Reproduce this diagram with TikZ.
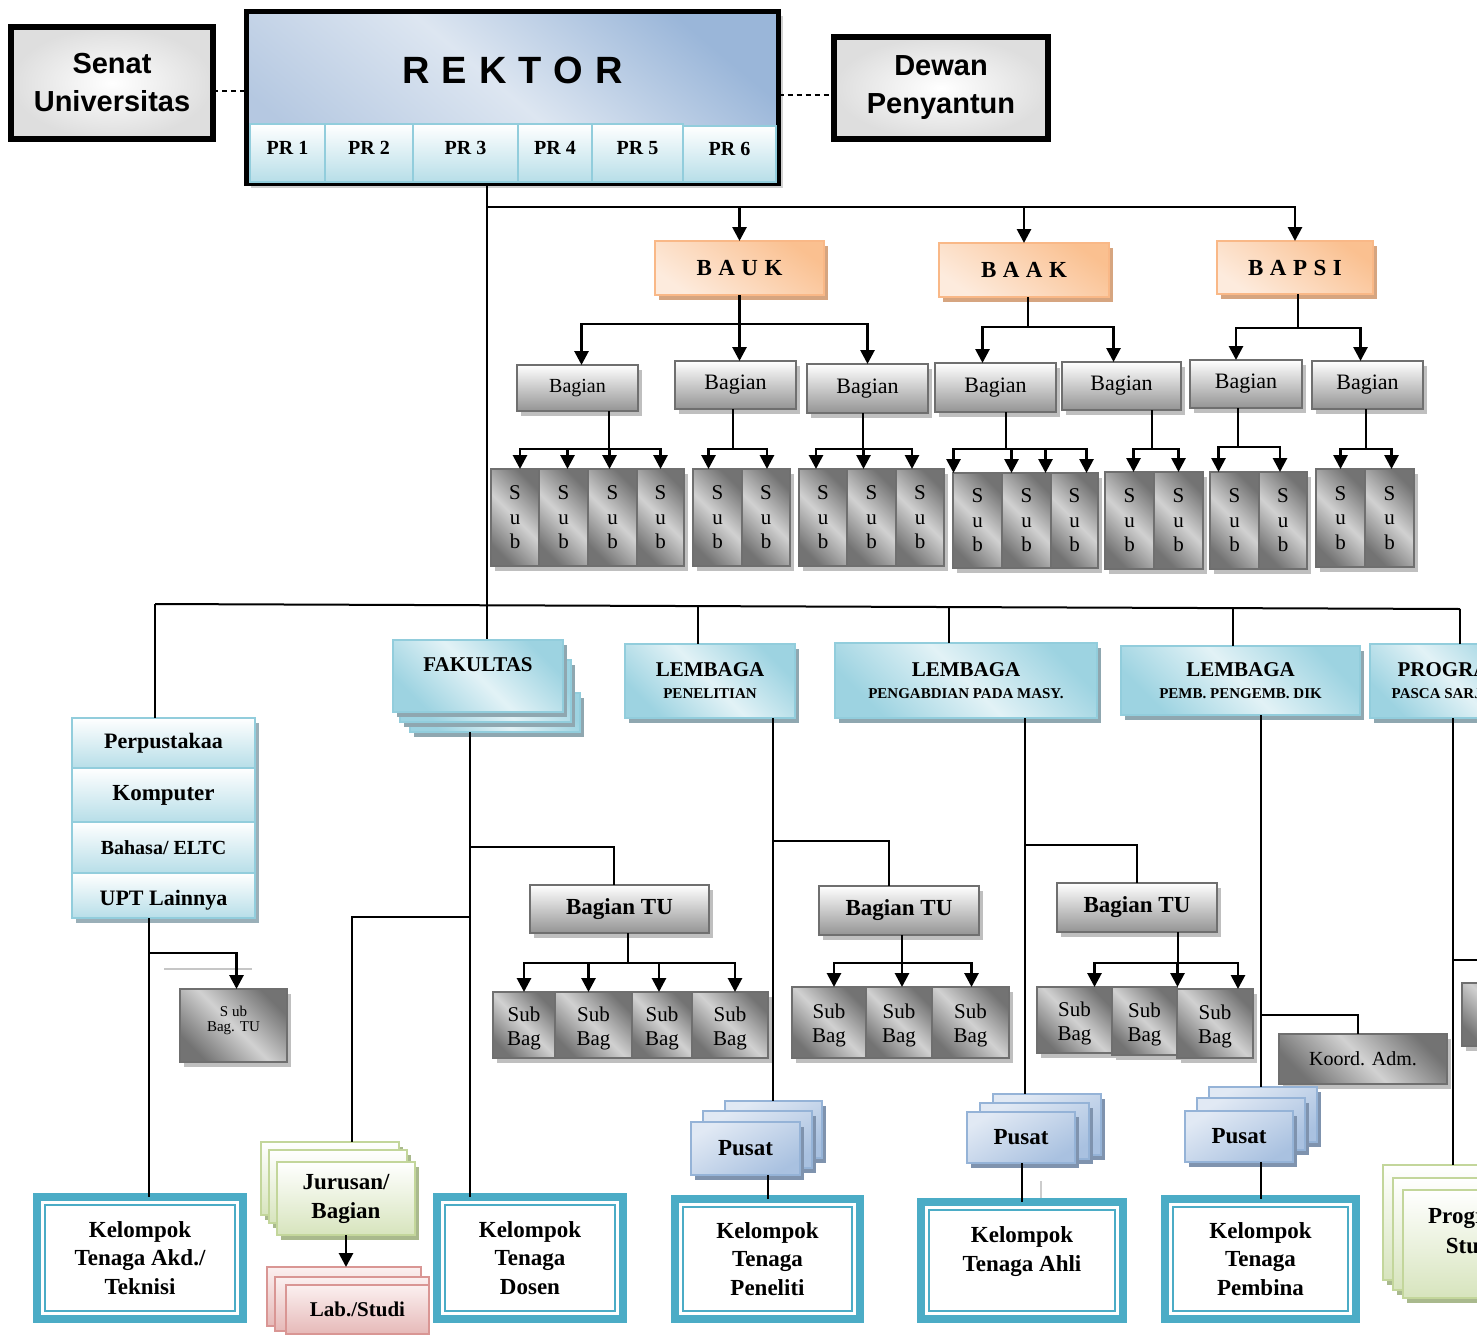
\documentclass[tikz,border=0pt]{standalone}
\usepackage{fontspec}
\setmainfont{Liberation Serif}
\newfontfamily\arialf{Liberation Sans}
\usetikzlibrary{shadows,arrows.meta}
\newcommand\fsz[2]{\fontsize{#1}{#2}\selectfont}
\newcommand\BX[6]{\node[#1,anchor=north west,minimum width={(#5)-(#3)},minimum height={(#6)-(#4)}] (#2) at (#3,#4)}
\newcommand\kin[1]{\draw[draw=tealK,line width=2.5pt] ([shift={(8pt,-8pt)}]#1.north west) rectangle ([shift={(-8pt,8pt)}]#1.south east);}
\newcommand\RB[2]{\raisebox{#1}[0pt][0pt]{\begin{tabular}{@{}c@{}}#2\end{tabular}}}
\newcommand\PRt[1]{\raisebox{-1.5pt}[0pt][0pt]{PR #1}}
\newcommand\SB{\RB{-8.5pt}{Sub\\Bag}}
\definecolor{tealK}{HTML}{4BACC6}
\definecolor{cyanB}{HTML}{92CDDC}
\definecolor{cyanL}{HTML}{B7DEE8}
\definecolor{cyanD}{HTML}{9DD3E1}
\definecolor{cyanM}{HTML}{E2F2F6}
\definecolor{cellS}{HTML}{9AAFB8}
\definecolor{lemS}{HTML}{8FA7B0}
\definecolor{orB}{HTML}{F9B887}
\definecolor{orD}{HTML}{FAC090}
\definecolor{orL}{HTML}{FDEBDD}
\definecolor{orS}{HTML}{D6A580}
\definecolor{grB}{HTML}{6F6F6F}
\definecolor{puB}{HTML}{95B3D7}
\definecolor{puL}{HTML}{E1E9F4}
\definecolor{puD}{HTML}{A9C1E0}
\definecolor{puS}{HTML}{7F93AE}
\definecolor{grnB}{HTML}{C3D69B}
\definecolor{grnL}{HTML}{D7E4BD}
\definecolor{grnS}{HTML}{A9B98D}
\definecolor{pkB}{HTML}{D99694}
\definecolor{pkL}{HTML}{E6B9B8}
\definecolor{pkT}{HTML}{FBF0F0}
\definecolor{rekD}{HTML}{9AB6D9}
\definecolor{rekM}{HTML}{DDE6F1}
\definecolor{rekB}{HTML}{B5C8E1}
\tikzset{
 base/.style={inner sep=1pt,outer sep=0pt,align=center},
 shad/.style={drop shadow={shadow xshift=4pt,shadow yshift=-5pt,fill=#1,opacity=1}},
 blk/.style={base,draw=black,line width=6pt,inner color=white,outer color=black!13,font=\arialf\bfseries\fsz{29}{38}},
 rek/.style={base,draw=black,line width=5pt,top color=rekD,bottom color=rekB,middle color=rekM,shading angle=-40,shad=black!18,font=\arialf\bfseries\fsz{38}{40}},
 pr/.style={base,draw=cyanB,line width=2.5pt,top color=white,bottom color=cyanL,font=\bfseries\fsz{20}{24}},
 cell/.style={pr,shad=cellS,font=\bfseries\fsz{22}{26}},
 org/.style={base,draw=orB,line width=2pt,top color=orD,bottom color=orL,shading angle=-35,shad=orS,font=\bfseries\fsz{23}{26}},
 bag/.style={base,draw=grB,line width=2.5pt,top color=white,bottom color=black!42,shad=black!25,font=\fsz{22}{26}},
 bagb/.style={bag,font=\bfseries\fsz{23}{26}},
 subv/.style={base,draw=grB,line width=2.5pt,top color=black!55,bottom color=black!55,middle color=black!18,shading angle=-45,shad=black!25,font=\fsz{21}{24.5}},
 subh/.style={subv,font=\fsz{21}{24}},
 lemb/.style={base,draw=cyanB,line width=2.5pt,top color=cyanD,bottom color=cyanD,middle color=cyanM,shading angle=-45,shad=lemS,font=\bfseries\fsz{21}{22}},
 kel/.style={base,draw=tealK,line width=8pt,fill=white,font=\bfseries\fsz{23}{28.5}},
 pus/.style={base,draw=puB,line width=2.5pt,top color=puL,bottom color=puD,shading angle=30,shad=puS,font=\bfseries\fsz{23}{26}},
 grn/.style={base,draw=grnB,line width=2.5pt,top color=white,bottom color=grnL,shad=grnS,font=\bfseries\fsz{23}{29}},
 pnk/.style={base,draw=pkB,line width=2.5pt,top color=pkT,bottom color=pkL,font=\bfseries\fsz{21}{24}},
 ln/.style={line width=2pt},
 lnb/.style={line width=2.8pt},
 arr/.style={line width=2.8pt,-{Triangle[width=14pt,length=14pt]}},
}
\begin{document}
\begin{tikzpicture}[x=1pt,y=-1pt]
\useasboundingbox (0,0) rectangle (1477,1335);
\clip (0,0) rectangle (1477,1335);
\fill[white] (0,0) rectangle (1477,1335);

% ---------- top ----------
\BX{blk}{senat}{11}{27}{213}{139}{Senat\\Universitas};
\BX{rek}{rektor}{246.5}{11.5}{778.5}{183}{\raisebox{14pt}[0pt][0pt]{R\kern12pt E\kern12pt K\kern12pt T\kern12pt O\kern12pt R}};
\BX{pr}{pr1}{250}{124}{325}{182}{\PRt{1}};
\BX{pr}{pr2}{325}{124}{413}{182}{\PRt{2}};
\BX{pr}{pr3}{413}{124}{518}{182}{\PRt{3}};
\BX{pr}{pr4}{518}{124}{592}{182}{\PRt{4}};
\BX{pr}{pr5}{592}{124}{683}{182}{\PRt{5}};
\BX{pr}{pr6}{683}{126}{776}{182}{\PRt{6}};
\BX{blk}{dewan}{834}{37}{1048}{139}{Dewan\\Penyantun};
\draw[line width=1.6pt,dash pattern=on 5pt off 4pt] ([yshift=-8pt]senat.east) -- ([yshift=-8pt]senat.east -| rektor.west);
\draw[line width=1.6pt,dash pattern=on 5pt off 4pt] ([yshift=-7pt]dewan.west -| rektor.east) -- ([yshift=-7pt]dewan.west);

% ---------- biro ----------
\BX{org}{bauk}{655}{241}{824}{295}{B\kern6.5pt A\kern6.5pt U\kern6.5pt K};
\BX{org}{baak}{939}{243}{1109}{297}{B\kern6.5pt A\kern6.5pt A\kern6.5pt K};
\BX{org}{bapsi}{1217}{241}{1373}{294}{B\kern6.5pt A\kern6.5pt P\kern6.5pt S\kern6.5pt I};

\BX{bag,font=\fsz{20}{24}}{b1}{517}{365}{638}{411}{Bagian};
\BX{bag}{b2}{675}{361}{796}{409}{Bagian};
\BX{bag}{b3}{807}{364}{928}{413}{Bagian};
\BX{bag}{b4}{935}{363}{1056}{412}{Bagian};
\BX{bag}{b5}{1062}{362}{1181}{410}{Bagian};
\BX{bag}{b6}{1190}{360}{1302}{408}{Bagian};
\BX{bag}{b7}{1312}{361}{1423}{409}{Bagian};

\BX{subv}{s11}{491}{469}{539}{566}{S\\u\\b};
\BX{subv}{s12}{539}{469}{588}{566}{S\\u\\b};
\BX{subv}{s13}{588}{469}{637}{566}{S\\u\\b};
\BX{subv}{s14}{637}{469}{684}{566}{S\\u\\b};
\BX{subv}{s21}{693}{469}{742}{566}{S\\u\\b};
\BX{subv}{s22}{742}{469}{790}{566}{S\\u\\b};
\BX{subv}{s31}{799}{469}{847}{566}{S\\u\\b};
\BX{subv}{s32}{847}{469}{896}{566}{S\\u\\b};
\BX{subv}{s33}{896}{469}{944}{566}{S\\u\\b};
\BX{subv}{s41}{953}{473}{1002}{568}{S\\u\\b};
\BX{subv}{s42}{1002}{473}{1051}{568}{S\\u\\b};
\BX{subv}{s43}{1051}{473}{1098}{568}{S\\u\\b};
\BX{subv}{s51}{1105}{472}{1154}{569}{S\\u\\b};
\BX{subv}{s52}{1154}{472}{1203}{569}{S\\u\\b};
\BX{subv}{s61}{1210}{472}{1259}{569}{S\\u\\b};
\BX{subv}{s62}{1259}{472}{1307}{569}{S\\u\\b};
\BX{subv}{s71}{1316}{469}{1365}{567}{S\\u\\b};
\BX{subv}{s72}{1365}{469}{1414}{567}{S\\u\\b};

% rektor -> biro
\coordinate (jr) at (487,207);
\draw[ln] (jr |- rektor.south) -- (jr |- 0,640);
\draw[arr] (jr) -| (bauk.north);
\draw[arr] (jr) -| (baak.north);
\draw[arr] (jr) -| (bapsi.north);

\coordinate (jbauk) at (739.5,324);
\draw[lnb] (bauk.south) -- (jbauk);
\draw[arr] (jbauk) -| ([xshift=4pt]b1.north);
\draw[arr] (jbauk) -- (jbauk |- b2.north);
\draw[arr] (jbauk) -| (b3.north);
\coordinate (jbaak) at (1028,327);
\draw[ln] (jbaak |- baak.south) -- (jbaak);
\draw[arr] (jbaak) -| ([xshift=-13pt]b4.north);
\draw[arr] (jbaak) -| ([xshift=-8pt]b5.north);
\coordinate (jbapsi) at (1298,328);
\draw[ln] (jbapsi |- bapsi.south) -- (jbapsi);
\draw[arr] (jbapsi) -| ([xshift=-10pt]b6.north);
\draw[arr] (jbapsi) -| ([xshift=-7pt]b7.north);

\coordinate (j1) at (609,449);
\draw[ln] (j1 |- b1.south) -- (j1);
\draw[arr] (j1) -| ([xshift=5pt]s11.north);
\draw[arr] (j1) -| ([xshift=4pt]s12.north);
\draw[arr] (j1) -| ([xshift=-3pt]s13.north);
\draw[arr] (j1) -| (s14.north);
\coordinate (j2) at (733,449);
\draw[ln] (j2 |- b2.south) -- (j2);
\draw[arr] (j2) -| ([xshift=-9pt]s21.north);
\draw[arr] (j2) -| ([xshift=1pt]s22.north);
\coordinate (j3) at (863,449);
\draw[ln] (j3 |- b3.south) -- (j3);
\draw[arr] (j3) -| ([xshift=-7pt]s31.north);
\draw[arr] (j3) -| ([xshift=-8pt]s32.north);
\draw[arr] (j3) -| ([xshift=-8pt]s33.north);
\coordinate (j4) at (1006,449);
\draw[ln] (j4 |- b4.south) -- (j4);
\draw[arr] (j4) -| ([xshift=-24pt]s41.north);
\draw[arr] (j4) -| ([xshift=-15pt]s42.north);
\draw[arr] (j4) -| ([xshift=-29pt]s43.north);
\draw[arr] (j4) -| ([xshift=12pt]s43.north);
\coordinate (j5) at (1152,449);
\draw[ln] (j5 |- b5.south) -- (j5);
\draw[arr] (j5) -| ([xshift=4pt]s51.north);
\draw[arr] (j5) -| (s52.north);
\coordinate (j6) at (1238,447);
\draw[ln] (j6 |- b6.south) -- (j6);
\draw[arr] (j6) -| ([xshift=-16pt]s61.north);
\draw[arr] (j6) -| ([xshift=-3pt]s62.north);
\coordinate (j7) at (1366,449);
\draw[ln] (j7 |- b7.south) -- (j7);
\draw[arr] (j7) -| (s71.north);
\draw[arr] (j7) -| ([xshift=2pt]s72.north);

% ---------- lower level ----------
\BX{cell}{perp}{72}{718}{255}{768}{Perpustakaa};
\BX{cell,font=\bfseries\fsz{23}{26}}{komp}{72}{768}{255}{822}{Komputer};
\BX{cell,font=\bfseries\fsz{20}{24}}{bhs}{72}{822}{255}{873}{Bahasa/ ELTC};
\BX{cell}{upt}{72}{873}{255}{918}{\raisebox{-10pt}[0pt][0pt]{UPT Lainnya}};

\BX{lemb}{fakb2}{410}{693}{580}{732}{};
\BX{lemb}{fakb1}{400}{660}{571}{722}{};
\BX{lemb}{fak}{393}{640}{563}{712}{\raisebox{5pt}[0pt][0pt]{FAKULTAS}};
\BX{lemb}{lp}{625}{644}{795}{718}{LEMBAGA\\{\fsz{15}{22}PENELITIAN}};
\BX{lemb}{lg}{835}{643}{1097}{718}{LEMBAGA\\{\fsz{15}{22}PENGABDIAN PADA MASY.}};
\BX{lemb}{le}{1121}{646}{1360}{715}{LEMBAGA\\{\fsz{15}{22}PEMB. PENGEMB. DIK}};
\BX{lemb}{lq}{1370}{644}{1536}{718}{PROGRAM\\{\fsz{15}{22}PASCA SARJANA}};

\coordinate (hl) at (155,604);
\coordinate (hr) at (1460,609);
\coordinate (t1) at (698,606);
\coordinate (t2) at (949,607);
\coordinate (t3) at (1233,608);
\draw[ln] (hl) -- (hr);
\draw[ln] (hl) -- (hl |- perp.north);
\draw[ln] (t1) -- (t1 |- lp.north);
\draw[ln] (t2) -- (t2 |- lg.north);
\draw[ln] (t3) -- (t3 |- le.north);
\draw[ln] (hr) -- (hr |- lq.north);

% Bagian TU
\BX{bagb}{tu1}{530}{885}{709}{933}{Bagian TU};
\BX{bagb}{tu2}{819}{886}{979}{935}{Bagian TU};
\BX{bagb}{tu3}{1057}{883}{1217}{932}{Bagian TU};

\BX{subh}{sb11}{493}{992}{555}{1058}{\SB};
\BX{subh}{sb12}{555}{992}{632}{1058}{\SB};
\BX{subh}{sb13}{632}{992}{692}{1058}{\SB};
\BX{subh}{sb14}{692}{992}{768}{1058}{\SB};
\BX{subh}{sb21}{792}{987}{866}{1058}{\SB};
\BX{subh}{sb22}{866}{987}{932}{1058}{\SB};
\BX{subh}{sb23}{932}{987}{1009}{1058}{\SB};
\BX{subh}{sb31}{1037}{987}{1112}{1053}{\SB};
\BX{subh}{sb32}{1112}{987}{1177}{1055}{\SB};
\BX{subh}{sb33}{1177}{989}{1253}{1058}{\SB};

\BX{subh,font=\fsz{15}{18}}{sbtu}{180}{989}{287}{1062}{\RB{2pt}{S ub\\[-3pt]Bag. TU}};
\BX{subh,font=\fsz{20}{24}}{koord}{1279}{1034}{1447}{1084}{Koord. Adm.};
\BX{subh}{greyq}{1462}{983}{1540}{1046}{};

% Pusat stacks
\BX{pus}{pus1b2}{725}{1101}{822}{1158}{};
\BX{pus}{pus1b1}{703}{1111}{812}{1168}{};
\BX{pus}{pus1}{691}{1122}{800}{1175}{Pusat};
\BX{pus}{pus2b2}{993}{1094}{1101}{1155}{};
\BX{pus}{pus2b1}{980}{1103}{1089}{1159}{};
\BX{pus}{pus2}{967}{1112}{1075}{1163}{Pusat};
\BX{pus}{pus3b2}{1209}{1087}{1317}{1142}{};
\BX{pus}{pus3b1}{1197}{1098}{1305}{1150}{};
\BX{pus}{pus3}{1185}{1111}{1293}{1162}{Pusat};

% green / pink stacks
\BX{grn}{jurb2}{261}{1142}{399}{1215}{};
\BX{grn}{jurb1}{269}{1150}{407}{1223}{};
\BX{grn}{jur}{277}{1162}{415}{1235}{Jurusan/\\Bagian};
\BX{pnk}{labb2}{267}{1267}{421}{1326}{};
\BX{pnk}{labb1}{275}{1277}{429}{1331}{};
\BX{pnk}{lab}{286}{1285}{429}{1334}{Lab./Studi};
\BX{grn}{prb2}{1383}{1165}{1521}{1280}{};
\BX{grn}{prb1}{1393}{1178}{1531}{1290}{};
\BX{grn}{prs}{1403}{1190}{1541}{1298}{\RB{5pt}{Program\\[1pt]Studi}};

% Kelompok
\BX{kel}{k1}{37}{1197}{243}{1319}{Kelompok\\Tenaga Akd./\\Teknisi};\kin{k1}
\BX{kel}{k2}{437}{1197}{623}{1319}{Kelompok\\Tenaga\\Dosen};\kin{k2}
\BX{kel}{k3}{675}{1199}{860}{1319}{Kelompok\\Tenaga\\Peneliti};\kin{k3}
\BX{kel}{k4}{921}{1202}{1123}{1319}{\RB{3pt}{Kelompok\\[0pt]Tenaga Ahli}};\kin{k4}
\BX{kel}{k5}{1165}{1199}{1356}{1319}{Kelompok\\Tenaga\\Pembina};\kin{k5}

% UPT branch
\coordinate (ju) at (149,953);
\draw[ln] (ju |- upt.south) -- (ju |- k1.north);
\draw[gray!45,line width=1.5pt] (164,969) -- (252,969);
\draw[arr] (ju) -| ([xshift=3pt]sbtu.north);

% Fakultas branch
\coordinate (jf) at (470,847);
\coordinate (jf2) at (470,917);
\draw[ln] (jf |- fakb2.south) -- (jf |- k2.north);
\draw[ln] (jf) -| ([xshift=-6pt]tu1.north);
\draw[ln] (jf2) -| ([xshift=22pt]jurb2.north);
\draw[arr] (jur.south) -- (jur.south |- labb2.north);

% Lembaga branches
\coordinate (jp) at (773,841);
\draw[ln] (jp |- lp.south) -- (jp |- pus1b2.north);
\draw[ln] (jp) -| ([xshift=-10pt]tu2.north);
\coordinate (jg) at (1025,845);
\draw[ln] (jg |- lg.south) -- (jg |- pus2b2.north);
\draw[ln] (jg) -| (tu3.north);
\coordinate (je) at (1261,1015);
\draw[ln] (je |- le.south) -- (je |- pus3b2.north);
\draw[ln] (je) -| ([xshift=-5pt]koord.north);
\coordinate (jq) at (1453,960);
\draw[ln] (jq |- lq.south) -- (jq |- prb2.north);
\draw[ln] (jq) -| (greyq.north);

\draw[ln] (k3.north |- pus1.south) -- (k3.north);
\draw[ln] (k4.north |- pus2.south) -- (k4.north);
\draw[gray!40,line width=1.5pt] (1041,1181) -- (1041,1198);
\draw[ln] (k5.north |- pus3.south) -- (k5.north);

% Bagian TU trees
\coordinate (jt1) at (628,963);
\draw[lnb] (jt1 |- tu1.south) -- (jt1);
\draw[arr] (jt1) -| (sb11.north);
\draw[arr] (jt1) -| ([xshift=-5pt]sb12.north);
\draw[arr] (jt1) -| ([xshift=-3pt]sb13.north);
\draw[arr] (jt1) -| ([xshift=5pt]sb14.north);
\coordinate (jt2) at (902,963);
\draw[lnb] (jt2 |- tu2.south) -- (jt2);
\draw[arr] (jt2) -| ([xshift=5pt]sb21.north);
\draw[arr] (jt2) -| ([xshift=3pt]sb22.north);
\draw[arr] (jt2) -| ([xshift=1pt]sb23.north);
\coordinate (jt3) at (1178,963);
\draw[lnb] (jt3 |- tu3.south) -- (jt3);
\draw[arr] (jt3) -| ([xshift=20pt]sb31.north);
\draw[arr] (jt3) -| ([xshift=33pt]sb32.north);
\draw[arr] (jt3) -| ([xshift=23pt]sb33.north);
\end{tikzpicture}
\end{document}
